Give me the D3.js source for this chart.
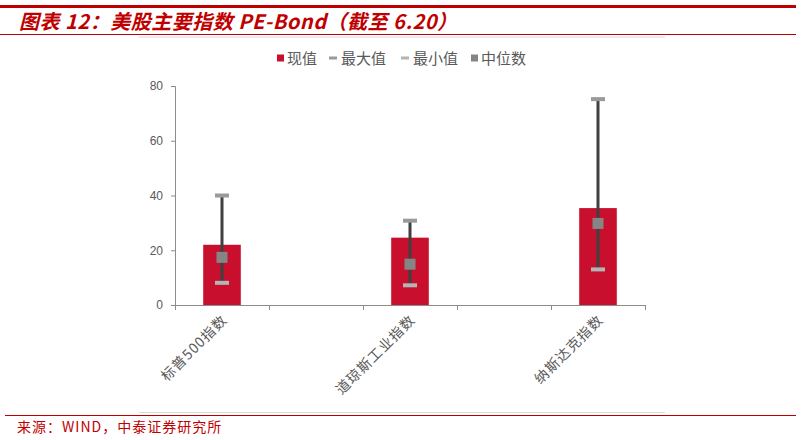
<!DOCTYPE html>
<html>
<head>
<meta charset="utf-8">
<script src="https://cdn.jsdelivr.net/npm/d3@7"></script>
<style>
  body { margin: 0; background: #fff; }
  svg { display: block; font-family: "Noto Sans CJK SC", "Liberation Sans", sans-serif; }
</style>
</head>
<body>
<svg id="chart" width="803" height="440"></svg>
<script>
// slots with "" are empty categories (the original chart leaves gaps between indices)
const categories = ["标普500指数", "", "道琼斯工业指数", "", "纳斯达克指数"];
const currentValues = [22.0, null, 24.6, null, 35.4];
const maxValues = [40.0, null, 30.8, null, 75.2];
const minValues = [8.1, null, 7.2, null, 13.0];
const medianValues = [17.4, null, 14.9, null, 29.8];
const yTicks = [0, 20, 40, 60, 80];
const legendLabels = ["现值", "最大值", "最小值", "中位数"];

const svg = d3.select("#chart");
const red = "#c8102e";
const textGray = "#595959";

// header / footer rules
svg.append("rect").attr("x", 0).attr("y", 5).attr("width", 796).attr("height", 3).attr("fill", "#c00000");
svg.append("line").attr("x1", 0).attr("x2", 796).attr("y1", 34.5).attr("y2", 34.5).attr("stroke", "#c00000").attr("stroke-width", 1);
svg.append("line").attr("x1", 139).attr("x2", 665).attr("y1", 37).attr("y2", 37).attr("stroke", "#d9d9d9").attr("stroke-width", 1);

svg.append("text")
  .text("图表 12：美股主要指数 PE-Bond（截至 6.20）")
  .attr("x", 19).attr("y", 29)
  .attr("fill", "#c00000")
  .style("font-size", "20px").style("font-style", "italic").style("font-weight", "bold")
  .style("letter-spacing", "0.5px");

svg.append("line").attr("x1", 139).attr("x2", 665).attr("y1", 412.5).attr("y2", 412.5).attr("stroke", "#d9d9d9").attr("stroke-width", 1);
svg.append("line").attr("x1", 5).attr("x2", 796).attr("y1", 415.5).attr("y2", 415.5).attr("stroke", "#c00000").attr("stroke-width", 1.2);
svg.append("text")
  .text("来源：WIND，中泰证券研究所")
  .attr("x", 17).attr("y", 432)
  .attr("fill", "#c00000")
  .style("font-size", "14px")
  .style("letter-spacing", "1px");

// scales
const margin = {left: 175, right: 158, top: 86, bottom: 135};
const yScale = d3.scaleLinear().domain([0, 80]).range([305, 86]);
const xScale = d3.scaleBand()
  .domain(d3.range(categories.length))
  .range([margin.left, 645])
  .paddingInner(0.6)
  .paddingOuter(0.3);
const slotScale = d3.scaleLinear().domain([0, categories.length]).range([margin.left, 645]);

// y axis
const yAxis = svg.append("g")
  .attr("transform", `translate(${margin.left},0)`)
  .call(d3.axisLeft(yScale).tickValues(yTicks).tickSize(4).tickPadding(8));
yAxis.select(".domain").attr("stroke", "#8c8c8c");
yAxis.selectAll(".tick line").attr("stroke", "#8c8c8c");
yAxis.selectAll(".tick text").attr("fill", textGray).style("font-size", "12px").style("font-family", "Liberation Sans, sans-serif");

// x axis, ticks on slot boundaries
const xAxis = svg.append("g")
  .attr("transform", `translate(0,${yScale(0)})`)
  .call(d3.axisBottom(slotScale).tickValues(d3.range(categories.length + 1)).tickFormat("").tickSize(5).tickSizeOuter(0));
xAxis.select(".domain").attr("stroke", "#8c8c8c");
xAxis.selectAll(".tick line").attr("stroke", "#8c8c8c");

const rows = categories.map((c, i) => ({
  i: i, name: c, cur: currentValues[i], max: maxValues[i], min: minValues[i], med: medianValues[i]
})).filter(d => d.cur != null);

const cx = d => xScale(d.i) + xScale.bandwidth() / 2;

// bars
svg.append("g").selectAll("rect")
  .data(rows)
  .join("rect")
  .attr("x", d => xScale(d.i))
  .attr("y", d => yScale(d.cur))
  .attr("width", xScale.bandwidth())
  .attr("height", d => yScale(0) - yScale(d.cur))
  .attr("fill", red);

// range lines
svg.append("g").selectAll("line")
  .data(rows)
  .join("line")
  .attr("x1", cx).attr("x2", cx)
  .attr("y1", d => yScale(d.max))
  .attr("y2", d => yScale(d.min))
  .attr("stroke", "#404040")
  .attr("stroke-width", 3);

// max / min caps
const capW = 14, capH = 4;
svg.append("g").selectAll("rect")
  .data(rows)
  .join("rect")
  .attr("x", d => cx(d) - capW / 2)
  .attr("y", d => yScale(d.max) - capH / 2)
  .attr("width", capW).attr("height", capH)
  .attr("fill", "#9a9a9a");
svg.append("g").selectAll("rect")
  .data(rows)
  .join("rect")
  .attr("x", d => cx(d) - capW / 2)
  .attr("y", d => yScale(d.min) - capH / 2)
  .attr("width", capW).attr("height", capH)
  .attr("fill", "#b4b4b4");

// median squares
const medS = 11;
svg.append("g").selectAll("rect")
  .data(rows)
  .join("rect")
  .attr("x", d => cx(d) - medS / 2)
  .attr("y", d => yScale(d.med) - medS / 2)
  .attr("width", medS).attr("height", medS)
  .attr("fill", "#858585");

// category labels, rotated
svg.append("g").selectAll("text")
  .data(rows)
  .join("text")
  .text(d => d.name)
  .attr("transform", d => `translate(${cx(d) + 6},${yScale(0) + 16}) rotate(-45)`)
  .attr("text-anchor", "end")
  .attr("fill", textGray)
  .style("font-size", "14px")
  .style("letter-spacing", "1px");

// legend
const legend = svg.append("g").attr("transform", "translate(0,58)");
const legendX = [277, 329, 401, 471];
legend.append("rect").attr("x", legendX[0]).attr("y", -3.5).attr("width", 7).attr("height", 7).attr("fill", red);
legend.append("rect").attr("x", legendX[1]).attr("y", -1.5).attr("width", 8).attr("height", 3).attr("fill", "#9a9a9a");
legend.append("rect").attr("x", legendX[2]).attr("y", -1.5).attr("width", 8).attr("height", 3).attr("fill", "#b4b4b4");
legend.append("rect").attr("x", legendX[3]).attr("y", -3.5).attr("width", 7).attr("height", 7).attr("fill", "#858585");
legend.selectAll("text.lab")
  .data(legendLabels)
  .join("text")
  .attr("class", "lab")
  .text(d => d)
  .attr("x", (d, i) => legendX[i] + (i === 1 || i === 2 ? 12 : 10))
  .attr("y", 5.5)
  .attr("fill", textGray)
  .style("font-size", "15px");
</script>
</body>
</html>
